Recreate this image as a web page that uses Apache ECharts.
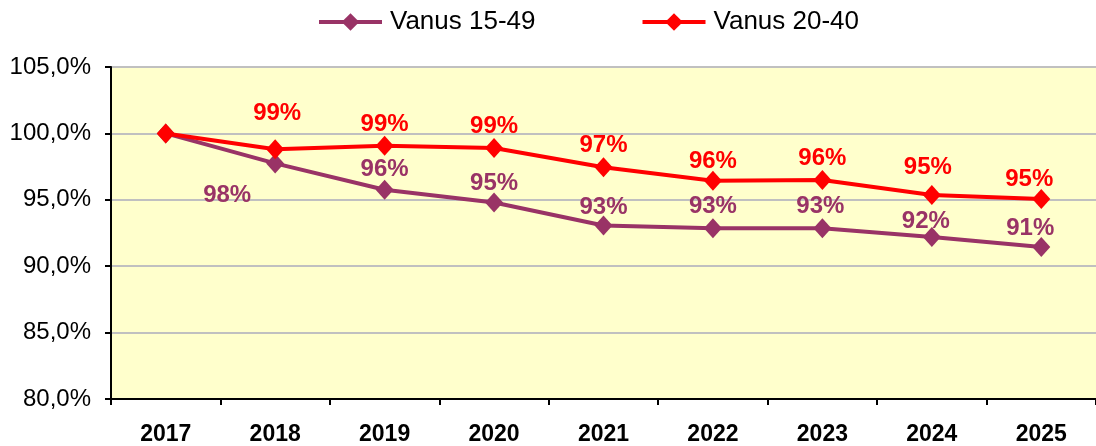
<!DOCTYPE html>
<html>
<head>
<meta charset="utf-8">
<script src="https://cdn.jsdelivr.net/npm/echarts@6/dist/echarts.min.js"></script>
<style>
  html, body { margin: 0; padding: 0; background: #fff; }
  #main { width: 1096px; height: 446px; }
</style>
</head>
<body>
<div id="main"></div>
<script>
// vuodet
var years = ['2017', '2018', '2019', '2020', '2021', '2022', '2023', '2024', '2025']
// indeksi, 2017 = 100 %
var vanus1549 = [100, 97.74, 95.76, 94.8, 93.07, 92.86, 92.85, 92.2, 91.45]
var vanus2040 = [100, 98.8, 99.07, 98.9, 97.45, 96.44, 96.49, 95.36, 95.06]

// label tweaks [dx, dy] for each point
var offs1549 = [null, [-48, 54], [0, 2], [0, 3], [0, 4], [0, 0], [-2, 0], [-6, 6], [-11, 3]]
var offs2040 = [null, [2, -14], [0, 1], [0, 0], [0, 0], [0, 3], [0, 0], [-4, -6], [-12, 2]]

var purple = '#993366'
var red = '#FF0000'
var font = '"Liberation Sans", Arial, sans-serif'

function points (vals, offs) {
  return vals.map(function (v, i) {
    var o = offs[i]
    return {
      value: v,
      label: o ? { show: true, offset: o } : { show: false }
    }
  })
}

var myChart = echarts.init(document.getElementById('main'))
myChart.setOption({
  animation: false,
  backgroundColor: '#ffffff',
  legend: {
    left: 312,
    top: 4,
    itemWidth: 63,
    itemHeight: 22,
    itemGap: 105,
    lineStyle: { width: 4 },
    textStyle: { fontFamily: font, fontSize: 26, color: '#000', padding: [0, 0, 0, 3] },
    data: ['Vanus 15-49', 'Vanus 20-40']
  },
  grid: {
    left: 111,
    top: 67,
    width: 990,
    height: 332,
    show: true,
    backgroundColor: '#FFFFCC',
    borderWidth: 0
  },
  xAxis: {
    type: 'category',
    data: years,
    boundaryGap: true,
    axisLine: { lineStyle: { color: '#000', width: 2 } },
    axisTick: { show: true, length: 6, lineStyle: { color: '#000', width: 2 } },
    axisLabel: { fontFamily: font, fontSize: 23, fontWeight: 'bold', color: '#000', margin: 24 },
    splitLine: { show: false }
  },
  yAxis: {
    type: 'value',
    min: 80,
    max: 105,
    interval: 5,
    axisLine: { show: true, lineStyle: { color: '#000', width: 2 } },
    axisTick: { show: true, inside: false, length: 6, lineStyle: { color: '#000', width: 2 } },
    axisLabel: {
      fontFamily: font, fontSize: 24, color: '#000', margin: 20,
      formatter: function (v) { return v.toFixed(1).replace('.', ',') + '%' }
    },
    splitLine: { show: true, lineStyle: { color: '#C0C0C0', width: 2 } }
  },
  series: [
    {
      name: 'Vanus 15-49',
      type: 'line',
      data: points(vanus1549, offs1549),
      symbol: 'diamond',
      symbolSize: [18, 20],
      color: purple,
      lineStyle: { width: 4, color: purple },
      itemStyle: { color: purple },
      label: {
        position: 'top',
        distance: 0,
        fontFamily: font, fontSize: 24, fontWeight: 'bold', color: purple,
        formatter: function (p) { return Math.round(p.value) + '%' }
      },
      z: 2
    },
    {
      name: 'Vanus 20-40',
      type: 'line',
      data: points(vanus2040, offs2040),
      symbol: 'diamond',
      symbolSize: [18, 20],
      color: red,
      lineStyle: { width: 4, color: red },
      itemStyle: { color: red },
      label: {
        position: 'top',
        distance: 0,
        fontFamily: font, fontSize: 24, fontWeight: 'bold', color: red,
        formatter: function (p) { return Math.round(p.value) + '%' }
      },
      z: 3
    }
  ]
})
</script>
</body>
</html>
